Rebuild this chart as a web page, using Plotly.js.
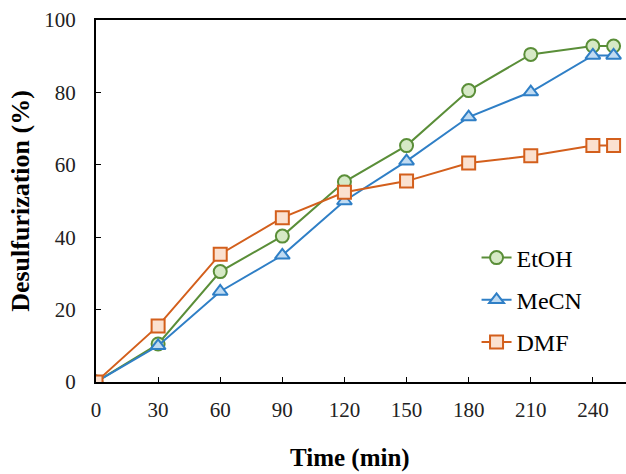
<!DOCTYPE html>
<html><head><meta charset="utf-8">
<script src="https://cdn.plot.ly/plotly-3.0.1.min.js"></script>
<style>html,body{margin:0;padding:0;background:#fff}#chart{width:626px;height:474px}</style>
</head><body><div id="chart"></div>
<script>
var time = [0, 30, 60, 90, 120, 150, 180, 210, 240, 250];
var etoh = [0, 10.5, 30.5, 40.3, 55.3, 65.3, 80.5, 90.5, 92.8, 92.8];
var mecn = [0, 10, 25, 35, 50, 61, 73.2, 80.1, 90.2, 90.2];
var dmf  = [0, 15.5, 35.3, 45.4, 52.4, 55.5, 60.5, 62.5, 65.3, 65.3];
var xTicks = [0, 30, 60, 90, 120, 150, 180, 210, 240];
var yTicks = [0, 20, 40, 60, 80, 100];
var xTitle = 'Time (min)';
var yTitle = 'Desulfurization (%)';

function tr(name, y, lineColor, fillColor, symbol, size) {
  return {x: time, y: y, name: name, legendgroup: name, type: 'scatter', mode: 'lines+markers',
    line: {color: lineColor, width: 2},
    marker: {symbol: symbol, size: size, color: fillColor, line: {color: lineColor, width: 2}}};
}
var data = [
  tr('EtOH', etoh, '#5a8e38', '#d6e9c6', 'circle', 13),
  tr('MeCN', mecn, '#2f7fc6', '#c0dbf2', 'triangle-up', 13),
  tr('DMF', dmf, '#d35f1c', '#fbe1d0', 'square', 13)
];
var fam = 'Liberation Serif, Times New Roman, serif';
var layout = {
  width: 626, height: 474,
  margin: {l: 96, r: 0, t: 20, b: 92},
  paper_bgcolor: '#fff', plot_bgcolor: '#fff',
  font: {family: fam, size: 21, color: '#000'},
  showlegend: true,
  legend: {x: 0.718, y: 0.2265, xanchor: 'left', yanchor: 'middle', traceorder: 'grouped',
    font: {family: fam, size: 24, color: '#000'}, bgcolor: 'rgba(0,0,0,0)', tracegroupgap: 8},
  xaxis: {range: [0, 256], tickvals: xTicks, ticktext: xTicks.map(String),
    showline: true, linecolor: '#000', linewidth: 2, mirror: true,
    ticks: 'inside', ticklen: 5, tickcolor: '#000', showgrid: false, zeroline: false,
    ticklabelstandoff: 8,
    tickfont: {family: fam, size: 21, color: '#222'}},
  yaxis: {range: [0, 100], tickvals: yTicks, ticktext: yTicks.map(String),
    showline: true, linecolor: '#000', linewidth: 2,
    ticks: 'inside', ticklen: 5, tickcolor: '#000', showgrid: false, zeroline: false,
    ticklabelstandoff: 14,
    tickfont: {family: fam, size: 21, color: '#222'},
    title: {text: '<b>' + yTitle + '</b>', font: {family: fam, size: 26, color: '#000'}, standoff: 7}},
  annotations: [{text: '<b>' + xTitle + '</b>', xref: 'paper', yref: 'paper',
    x: 0.479, y: -0.209, xanchor: 'center', yanchor: 'middle', showarrow: false,
    font: {family: fam, size: 25, color: '#000'}}]
};
Plotly.newPlot('chart', data, layout, {displayModeBar: false, staticPlot: true});
</script></body></html>
